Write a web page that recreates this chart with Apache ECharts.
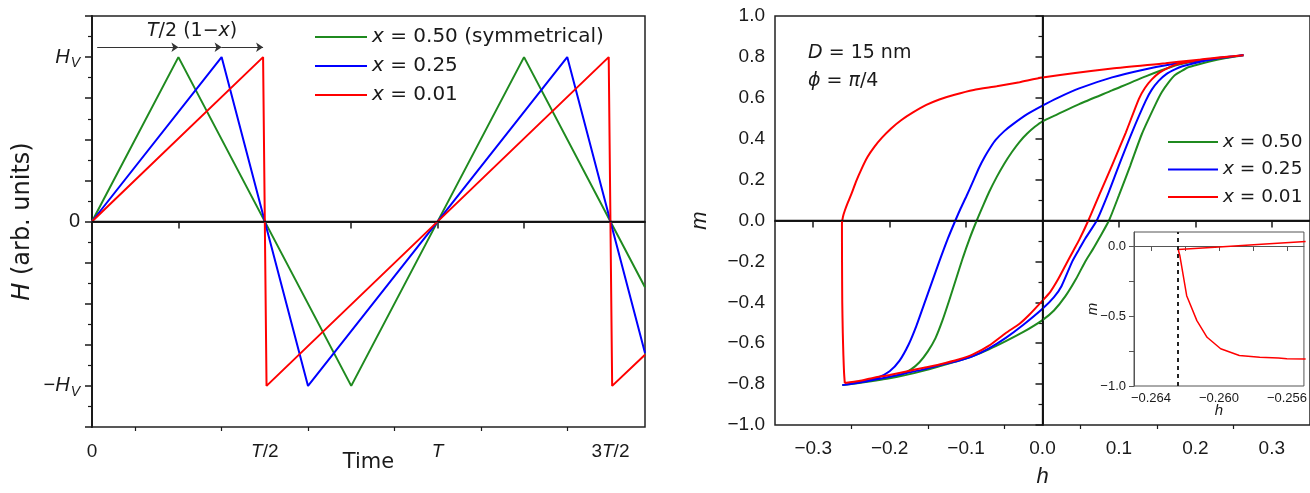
<!DOCTYPE html>
<html>
<head>
<meta charset="utf-8">
<script src="https://cdn.jsdelivr.net/npm/echarts@6/dist/echarts.min.js"></script>
<style>
html,body{margin:0;padding:0;background:#fff;}
#chart{width:1310px;height:493px;}
</style>
</head>
<body>
<div id="chart"></div>
<script>
// ---------- Left panel: field waveforms H(t), time in units of T, H in units of H_V ----------
const timeMajorTicks = [0, 0.25, 0.5, 0.75, 1, 1.25, 1.5];
const timeMinorTicks = [0.125, 0.375, 0.625, 0.875, 1.125, 1.375];
const timeLabelValues = [0, 0.5, 1, 1.5];
const timeLabels = ['0', '{i|T}/2', '{i|T}', '3{i|T}/2'];
const fieldLabelValues = [-1, 0, 1];
const fieldLabels = ['\u2212{i|H}{s|V}', '0', '{i|H}{s|V}'];

const waveX050 = [[0, 0], [0.25, 1], [0.75, -1], [1.25, 1], [1.6, -0.4]];
const waveX025 = [[0, 0], [0.375, 1], [0.625, -1], [1.375, 1], [1.6, -0.8]];
const waveX001 = [[0, 0], [0.495, 1], [0.505, -1], [1.495, 1], [1.505, -1], [1.6, -0.81]];

const arrowLevel = 1.06;
const arrowSegments = [[0.015, 0.25], [0.25, 0.375], [0.375, 0.495]];

const leftLegendNames = ['L050', 'L025', 'L001'];
const leftLegendLabels = ['{i|x} = 0.50 (symmetrical)', '{i|x} = 0.25', '{i|x} = 0.01'];

// ---------- Right panel: hysteresis loops m(h) ----------
const hMajorTicks = [-0.3, -0.2, -0.1, 0, 0.1, 0.2, 0.3];
const hMinorTicks = [-0.25, -0.15, -0.05, 0.05, 0.15, 0.25];

const loopX050 = [
  [-0.262,-0.805],[-0.245,-0.797],[-0.222,-0.785],[-0.2,-0.772],[-0.178,-0.755],[-0.155,-0.734],
  [-0.135,-0.713],[-0.11,-0.686],[-0.091,-0.663],[-0.07,-0.63],[-0.048,-0.59],[-0.025,-0.545],
  [0,-0.487],[0.015,-0.44],[0.03,-0.37],[0.044,-0.285],[0.056,-0.2],[0.066,-0.14],[0.074,-0.088],
  [0.087,0],[0.1,0.123],[0.115,0.27],[0.13,0.423],[0.148,0.569],[0.156,0.627],[0.165,0.675],
  [0.173,0.71],[0.182,0.731],[0.19,0.748],[0.2,0.759],[0.217,0.776],[0.24,0.794],[0.263,0.808],
  [0.24,0.797],[0.215,0.786],[0.191,0.772],[0.169,0.752],[0.135,0.705],[0.091,0.636],
  [0.048,0.569],[0.02,0.52],[0,0.485],[-0.01,0.458],[-0.02,0.425],[-0.03,0.385],[-0.04,0.335],
  [-0.05,0.278],[-0.06,0.212],[-0.07,0.138],[-0.078,0.07],[-0.086,0],[-0.095,-0.085],
  [-0.104,-0.18],[-0.113,-0.285],[-0.122,-0.39],[-0.131,-0.49],[-0.14,-0.575],[-0.15,-0.64],
  [-0.161,-0.693],[-0.172,-0.728],[-0.185,-0.754],[-0.2,-0.77],[-0.22,-0.784],[-0.24,-0.795],
  [-0.262,-0.805]
];
const loopX025 = [
  [-0.262,-0.805],[-0.245,-0.796],[-0.222,-0.78],[-0.2,-0.764],[-0.178,-0.746],[-0.155,-0.728],
  [-0.135,-0.708],[-0.11,-0.686],[-0.091,-0.663],[-0.07,-0.625],[-0.048,-0.574],[-0.025,-0.51],
  [0,-0.432],[0.015,-0.375],[0.025,-0.32],[0.039,-0.2],[0.048,-0.14],[0.056,-0.088],[0.071,0],
  [0.085,0.123],[0.1,0.27],[0.117,0.43],[0.135,0.585],[0.143,0.64],[0.152,0.683],[0.162,0.716],
  [0.174,0.74],[0.183,0.754],[0.193,0.764],[0.208,0.777],[0.23,0.793],[0.263,0.808],
  [0.23,0.795],[0.195,0.777],[0.169,0.764],[0.135,0.74],[0.091,0.7],[0.048,0.646],[0.02,0.6],
  [0,0.562],[-0.02,0.52],[-0.039,0.47],[-0.05,0.437],[-0.061,0.395],[-0.068,0.358],
  [-0.075,0.315],[-0.083,0.258],[-0.091,0.19],[-0.1,0.115],[-0.107,0.06],[-0.114,0],
  [-0.124,-0.09],[-0.135,-0.2],[-0.145,-0.305],[-0.155,-0.41],[-0.165,-0.515],[-0.175,-0.605],
  [-0.187,-0.685],[-0.2,-0.737],[-0.215,-0.767],[-0.235,-0.787],[-0.262,-0.805]
];
const loopX001 = [
  [-0.2587,-0.795],[-0.24,-0.785],[-0.222,-0.77],[-0.2,-0.755],[-0.178,-0.738],[-0.155,-0.72],
  [-0.135,-0.704],[-0.11,-0.68],[-0.091,-0.655],[-0.07,-0.612],[-0.048,-0.55],[-0.03,-0.505],
  [-0.017,-0.46],[0,-0.392],[0.01,-0.35],[0.02,-0.29],[0.03,-0.22],[0.04,-0.15],[0.048,-0.095],
  [0.06,0],[0.074,0.123],[0.091,0.27],[0.109,0.43],[0.126,0.594],[0.134,0.648],[0.143,0.69],
  [0.153,0.723],[0.165,0.748],[0.176,0.764],[0.187,0.772],[0.204,0.785],[0.23,0.797],[0.263,0.808],
  [0.195,0.783],[0.161,0.769],[0.091,0.743],[0,0.699],[-0.03,0.676],[-0.06,0.656],[-0.09,0.638],
  [-0.115,0.615],[-0.135,0.592],[-0.152,0.565],[-0.17,0.527],[-0.185,0.49],[-0.198,0.45],
  [-0.21,0.405],[-0.22,0.36],[-0.229,0.31],[-0.237,0.25],[-0.244,0.19],[-0.25,0.13],
  [-0.255,0.085],[-0.2585,0.05],[-0.261,0.02],[-0.2624,-0.015],
  [-0.2623,-0.2],[-0.262,-0.4],[-0.2613,-0.55],[-0.2605,-0.66],[-0.2597,-0.74],[-0.2587,-0.795]
];
const rightLegendNames = ['R050', 'R025', 'R001'];
const rightLegendLabels = ['{i|x} = 0.50', '{i|x} = 0.25', '{i|x} = 0.01'];

// ---------- Inset: red loop near the switching field ----------
const insetMajorTicks = [-0.264, -0.26, -0.256];
const insetMinorTicks = [-0.262, -0.258];
const insetYLabelValues = [0, -0.5, -1];
const insetYTicks = [0, -0.25, -0.5, -0.75, -1];
const insetSwitchField = -0.2624;
const insetX001 = [
  [-0.2549,0.032],[-0.2575,0.012],[-0.26,-0.008],[-0.2624,-0.025],
  [-0.2623,-0.07],[-0.2619,-0.355],[-0.2613,-0.533],[-0.2607,-0.652],[-0.2599,-0.734],
  [-0.2588,-0.782],[-0.2576,-0.794],[-0.2565,-0.8],[-0.256,-0.805],[-0.2549,-0.808]
];

const GREEN = '#1f8a1f', BLUE = '#0000ff', RED = '#ff0000', INK = '#1a1a1a';
const FONT = 'Liberation Sans, Arial, sans-serif';
const WIDE = 'DejaVu Sans, sans-serif';
const minus = s => String(s).replace('-', '\u2212');

const italic = (size, fam) => ({fontStyle: 'italic', fontSize: size, color: INK, fontFamily: fam || FONT});

const chart = echarts.init(document.getElementById('chart'), null, {renderer: 'canvas'});

function minorAxis(grid, min, max, ticks, len) {
  return {
    type: 'value', gridIndex: grid, min: min, max: max, position: 'bottom',
    axisLine: {show: false}, splitLine: {show: false}, axisLabel: {show: false},
    axisTick: {show: true, inside: false, length: len, customValues: ticks, lineStyle: {color: INK, width: 1.2}}
  };
}

const option = {
  animation: false,
  backgroundColor: '#fff',
  textStyle: {fontFamily: FONT},
  grid: [
    {left: 92, top: 16, width: 553, height: 411, show: true, borderColor: '#222', borderWidth: 1.5, backgroundColor: 'transparent'},
    {left: 775, top: 16, width: 537, height: 411, show: true, borderColor: '#222', borderWidth: 1.5, backgroundColor: 'transparent'},
    {left: 1134, top: 232, width: 172, height: 154, show: true, borderColor: '#555', borderWidth: 1, backgroundColor: '#fff'}
  ],
  xAxis: [
    {
      type: 'value', gridIndex: 0, min: 0, max: 1.6, position: 'bottom',
      name: 'Time', nameLocation: 'middle', nameGap: 25, nameMoveOverlap: false,
      nameTextStyle: {fontSize: 21, color: INK, fontFamily: WIDE},
      axisLine: {show: true, lineStyle: {color: INK, width: 2}},
      axisTick: {show: true, length: 7, customValues: timeMajorTicks, lineStyle: {color: INK, width: 1.5}},
      axisLabel: {
        customValues: timeLabelValues, margin: 15, fontSize: 19, color: INK, fontFamily: FONT,
        formatter: v => timeLabels[timeLabelValues.findIndex(t => Math.abs(t - v) < 1e-9)] || '',
        rich: {i: italic(19)}
      },
      splitLine: {show: false}
    },
    minorAxis(0, 0, 1.6, timeMinorTicks, 4),
    {
      type: 'value', gridIndex: 1, min: -0.35, max: 0.35, position: 'bottom',
      name: '{i|h}', nameLocation: 'middle', nameGap: 41, nameMoveOverlap: false,
      nameTextStyle: {fontSize: 22, color: INK, fontFamily: FONT, rich: {i: italic(22)}},
      axisLine: {show: true, lineStyle: {color: INK, width: 2}},
      axisTick: {show: true, length: 7, customValues: hMajorTicks, lineStyle: {color: INK, width: 1.5}},
      axisLabel: {
        customValues: hMajorTicks, margin: 14, fontSize: 19, color: INK, fontFamily: FONT,
        formatter: v => minus(v.toFixed(1))
      },
      splitLine: {show: false}
    },
    minorAxis(1, -0.35, 0.35, hMinorTicks, 4),
    {
      type: 'value', gridIndex: 2, min: -0.265, max: -0.255, position: 'bottom',
      name: '{i|h}', nameLocation: 'middle', nameGap: 17, nameMoveOverlap: false,
      nameTextStyle: {fontSize: 15, color: INK, fontFamily: FONT, rich: {i: italic(15)}},
      axisLine: {show: true, lineStyle: {color: '#555', width: 1}},
      axisTick: {show: true, length: 5, customValues: insetMajorTicks.concat(insetMinorTicks), lineStyle: {color: '#555', width: 1}},
      axisLabel: {
        customValues: insetMajorTicks, margin: 6, fontSize: 13, color: INK, fontFamily: FONT,
        formatter: v => minus(v.toFixed(3))
      },
      splitLine: {show: false}
    }
  ],
  yAxis: [
    {
      type: 'value', gridIndex: 0, min: -1.25, max: 1.25, interval: 0.25,
      name: '{i|H} (arb. units)', nameLocation: 'middle', nameGap: 57, nameMoveOverlap: false,
      nameTextStyle: {fontSize: 24, color: INK, fontFamily: WIDE, rich: {i: italic(24, WIDE)}},
      axisLine: {show: true, lineStyle: {color: INK, width: 2}},
      axisTick: {show: true, length: 7, lineStyle: {color: INK, width: 1.5}},
      minorTick: {show: true, splitNumber: 2, length: 4, lineStyle: {color: INK, width: 1.2}},
      axisLabel: {
        margin: 12, fontSize: 20, color: INK, fontFamily: FONT,
        formatter: v => {
          const k = fieldLabelValues.findIndex(t => Math.abs(t - v) < 1e-9);
          return k < 0 ? '' : fieldLabels[k];
        },
        rich: {
          i: italic(20),
          s: {fontStyle: 'italic', fontSize: 14, color: INK, fontFamily: FONT, padding: [12, 0, 0, 1]}
        }
      },
      splitLine: {show: false}
    },
    {
      type: 'value', gridIndex: 1, min: -1, max: 1, interval: 0.2,
      name: '{i|m}', nameLocation: 'middle', nameGap: 64, nameMoveOverlap: false,
      nameTextStyle: {fontSize: 22, color: INK, fontFamily: FONT, rich: {i: italic(22)}},
      axisLine: {show: true, lineStyle: {color: INK, width: 2}},
      axisTick: {show: true, length: 7, lineStyle: {color: INK, width: 1.5}},
      minorTick: {show: true, splitNumber: 2, length: 4, lineStyle: {color: INK, width: 1.2}},
      axisLabel: {margin: 10, fontSize: 19, color: INK, fontFamily: FONT, formatter: v => minus(v.toFixed(1))},
      splitLine: {show: false}
    },
    {
      type: 'value', gridIndex: 2, min: -1, max: 0.1,
      name: '{i|m}', nameLocation: 'middle', nameGap: 34, nameMoveOverlap: false,
      nameTextStyle: {fontSize: 15, color: INK, fontFamily: FONT, rich: {i: italic(15)}},
      axisLine: {show: true, lineStyle: {color: '#555', width: 1}},
      axisTick: {show: true, length: 5, customValues: insetYTicks, lineStyle: {color: '#555', width: 1}},
      axisLabel: {customValues: insetYLabelValues, margin: 8, fontSize: 13, color: INK, fontFamily: FONT, formatter: v => minus(v.toFixed(1))},
      splitLine: {show: false}
    }
  ],
  legend: [
    {
      data: leftLegendNames, left: 310, top: 22, orient: 'vertical', icon: 'rect',
      itemWidth: 52, itemHeight: 2, itemGap: 9,
      textStyle: {fontSize: 20, color: INK, fontFamily: WIDE, lineHeight: 20, rich: {i: italic(20, WIDE)}},
      formatter: n => leftLegendLabels[leftLegendNames.indexOf(n)]
    },
    {
      data: rightLegendNames, left: 1163, top: 127, orient: 'vertical', icon: 'rect',
      itemWidth: 50, itemHeight: 2, itemGap: 7.5,
      textStyle: {fontSize: 18.5, color: INK, fontFamily: WIDE, lineHeight: 20, rich: {i: italic(18.5, WIDE)}},
      formatter: n => rightLegendLabels[rightLegendNames.indexOf(n)]
    }
  ],
  graphic: [
    {type: 'text', left: 147, top: 22, silent: true,
      style: {text: '{i|T}/2 (1\u2212{i|x})', fontSize: 19, fill: INK, fontFamily: WIDE, rich: {i: italic(19, WIDE)}}},
    {type: 'text', left: 808, top: 44, silent: true,
      style: {text: '{i|D} = 15 nm', fontSize: 19, fill: INK, fontFamily: WIDE, rich: {i: italic(19, WIDE)}}},
    {type: 'text', left: 808, top: 72, silent: true,
      style: {text: '{i|\u03D5} = {i|\u03C0}/4', fontSize: 19, fill: INK, fontFamily: WIDE, rich: {i: italic(19, WIDE)}}}
  ],
  series: [
    {type: 'line', xAxisIndex: 0, yAxisIndex: 0, data: [], z: 1, silent: true,
      markLine: {silent: true, symbol: 'none', label: {show: false},
        lineStyle: {color: '#111', width: 1.3, type: 'solid'}, data: [{yAxis: 0}]}},
    {type: 'line', xAxisIndex: 0, yAxisIndex: 0, data: [], z: 1, silent: true,
      markLine: {silent: true, symbol: ['none', 'arrow'], symbolSize: 7, precision: 4, label: {show: false},
        lineStyle: {color: '#333', width: 1, type: 'solid'},
        data: arrowSegments.map(s => [{coord: [s[0], arrowLevel]}, {coord: [s[1], arrowLevel]}])}},
    {name: 'L050', type: 'line', xAxisIndex: 0, yAxisIndex: 0, data: waveX050, showSymbol: false, symbol: 'none',
      lineStyle: {color: GREEN, width: 2}, itemStyle: {color: GREEN}},
    {name: 'L025', type: 'line', xAxisIndex: 0, yAxisIndex: 0, data: waveX025, showSymbol: false, symbol: 'none',
      lineStyle: {color: BLUE, width: 2}, itemStyle: {color: BLUE}},
    {name: 'L001', type: 'line', xAxisIndex: 0, yAxisIndex: 0, data: waveX001, showSymbol: false, symbol: 'none',
      lineStyle: {color: RED, width: 2}, itemStyle: {color: RED}},
    {type: 'line', xAxisIndex: 2, yAxisIndex: 1, data: [], z: 1, silent: true,
      markLine: {silent: true, symbol: 'none', label: {show: false},
        lineStyle: {color: '#111', width: 1.3, type: 'solid'}, data: [{yAxis: 0}, {xAxis: 0}]}},
    {name: 'R050', type: 'line', xAxisIndex: 2, yAxisIndex: 1, data: loopX050, showSymbol: false, symbol: 'none', smooth: 0.2,
      lineStyle: {color: GREEN, width: 2}, itemStyle: {color: GREEN}},
    {name: 'R025', type: 'line', xAxisIndex: 2, yAxisIndex: 1, data: loopX025, showSymbol: false, symbol: 'none', smooth: 0.2,
      lineStyle: {color: BLUE, width: 2}, itemStyle: {color: BLUE}},
    {name: 'R001', type: 'line', xAxisIndex: 2, yAxisIndex: 1, data: loopX001, showSymbol: false, symbol: 'none', smooth: 0.2,
      lineStyle: {color: RED, width: 2}, itemStyle: {color: RED}},
    {type: 'line', xAxisIndex: 4, yAxisIndex: 2, data: insetX001, showSymbol: false, symbol: 'none', silent: true,
      lineStyle: {color: RED, width: 1.5},
      markLine: {silent: true, symbol: 'none', precision: 6, label: {show: false},
        lineStyle: {color: '#222', width: 2, type: [4, 4]}, data: [{xAxis: insetSwitchField}]}}
  ]
};
chart.setOption(option);
</script>
</body>
</html>
